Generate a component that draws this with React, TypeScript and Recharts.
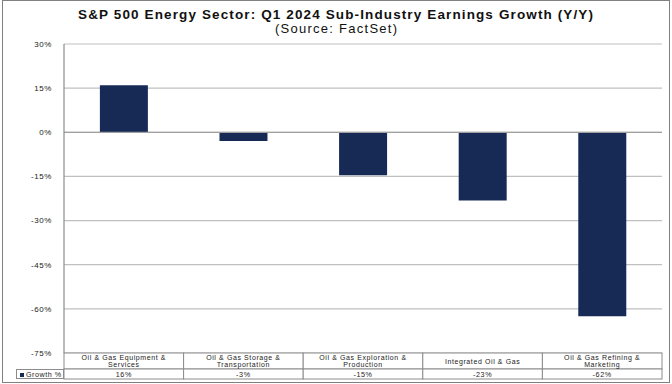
import { BarChart, Bar, XAxis, YAxis, CartesianGrid, ReferenceLine } from 'recharts';

const categories = [
  'Oil & Gas Equipment & Services',
  'Oil & Gas Storage & Transportation',
  'Oil & Gas Exploration & Production',
  'Integrated Oil & Gas',
  'Oil & Gas Refining & Marketing',
];
const growth = [16, -3, -14.6, -23.2, -62.5];
const growthLabels = ['16%', '-3%', '-15%', '-23%', '-62%'];
const yTicks = [30, 15, 0, -15, -30, -45, -60, -75];

const data = categories.map((name, i) => ({ name, growth: growth[i], label: growthLabels[i] }));

const W = 672;
const H = 384;
const PLOT_LEFT = 64;
const PLOT_RIGHT = 662;
const PLOT_TOP = 44;
const PLOT_BOTTOM = 353;
const BAND = (PLOT_RIGHT - PLOT_LEFT) / categories.length;
const NAVY = '#172a56';
const FONT = 'Arial, "Liberation Sans", sans-serif';

function wrap(text: string, max: number) {
  const lines: string[] = [];
  let cur = '';
  for (const w of text.split(' ')) {
    const next = cur ? cur + ' ' + w : w;
    if (next.length > max && cur) {
      lines.push(cur);
      cur = w;
    } else cur = next;
  }
  if (cur) lines.push(cur);
  return lines;
}

function TableTick(props: any) {
  const { x, payload, index } = props;
  const lines = wrap(payload.value, 23);
  const left = x - BAND / 2;
  const top = PLOT_BOTTOM;
  const mid = top + 8;
  return (
    <g>
      <rect x={left} y={top} width={BAND} height={16} fill="#fff" stroke="#8c8c8c" strokeWidth={1} />
      <rect x={left} y={top + 16} width={BAND} height={10} fill="#fff" stroke="#8c8c8c" strokeWidth={1} />
      {lines.map((l, i) => (
        <text
          key={i}
          x={x}
          y={mid + (i - (lines.length - 1) / 2) * 7.8}
          textAnchor="middle"
          dominantBaseline="central"
          fontSize={7}
          letterSpacing={0.6}
          fill="#222"
          fontFamily={FONT}
        >
          {l}
        </text>
      ))}
      <text x={x} y={top + 21.3} textAnchor="middle" dominantBaseline="central" fontSize={7.2} letterSpacing={0.6} fill="#222" fontFamily={FONT}>
        {data[index]?.label}
      </text>
    </g>
  );
}

export default function App() {
  return (
    <div style={{ position: 'fixed', left: 0, top: 0, width: W, height: H, background: '#fff', fontFamily: FONT }}>
      <div
        style={{
          position: 'absolute',
          left: 2,
          top: 0,
          width: 666,
          height: 381,
          border: '1.5px solid #808080',
        }}
      />
      <svg style={{ position: 'absolute', left: 0, top: 0 }} width={W} height={40}>
        <text x={78} y={18.5} fontSize={13.5} fontWeight="bold" fill="#111" fontFamily={FONT} textLength={515} lengthAdjust="spacing">
          S&amp;P 500 Energy Sector: Q1 2024 Sub-Industry Earnings Growth (Y/Y)
        </text>
        <text x={275} y={32.5} fontSize={13} fill="#111" fontFamily={FONT} textLength={122} lengthAdjust="spacing">
          (Source: FactSet)
        </text>
      </svg>
      <div style={{ position: 'absolute', left: 0, top: 0 }}>
        <BarChart
          width={W}
          height={H}
          data={data}
          margin={{ top: PLOT_TOP, right: W - PLOT_RIGHT, bottom: 0, left: 4 }}
          barCategoryGap="30%"
        >
          <CartesianGrid vertical={false} stroke="#c0c0c0" strokeWidth={1.2} />
          <YAxis
            width={PLOT_LEFT - 4}
            domain={[-75, 30]}
            ticks={yTicks}
            interval={0}
            tickFormatter={(v: number) => `${v}%`}
            tick={{ fontSize: 8, fill: '#222', fontFamily: FONT, letterSpacing: 0.6 }}
            tickLine={false}
            axisLine={{ stroke: '#8c8c8c', strokeWidth: 1.2 }}
            tickMargin={6}
          />
          <XAxis
            dataKey="name"
            height={H - PLOT_BOTTOM}
            interval={0}
            tickLine={false}
            axisLine={false}
            tick={<TableTick />}
          />
          <ReferenceLine y={0} stroke="#a0a0a0" strokeWidth={1.2} />
          <Bar dataKey="growth" fill={NAVY} isAnimationActive={false} />
        </BarChart>
      </div>
      <div
        style={{
          position: 'absolute',
          left: 16,
          top: PLOT_BOTTOM + 16,
          width: PLOT_LEFT - 16,
          height: 10,
          boxSizing: 'border-box',
          border: '1px solid #8c8c8c',
          fontSize: 7.2,
          lineHeight: '9px',
          letterSpacing: 0.5,
          color: '#222',
          whiteSpace: 'nowrap',
        }}
      >
        <span style={{ display: 'inline-block', width: 4, height: 4, background: NAVY, marginLeft: 3, marginRight: 2, verticalAlign: 'middle' }} />
        Growth %
      </div>
    </div>
  );
}
